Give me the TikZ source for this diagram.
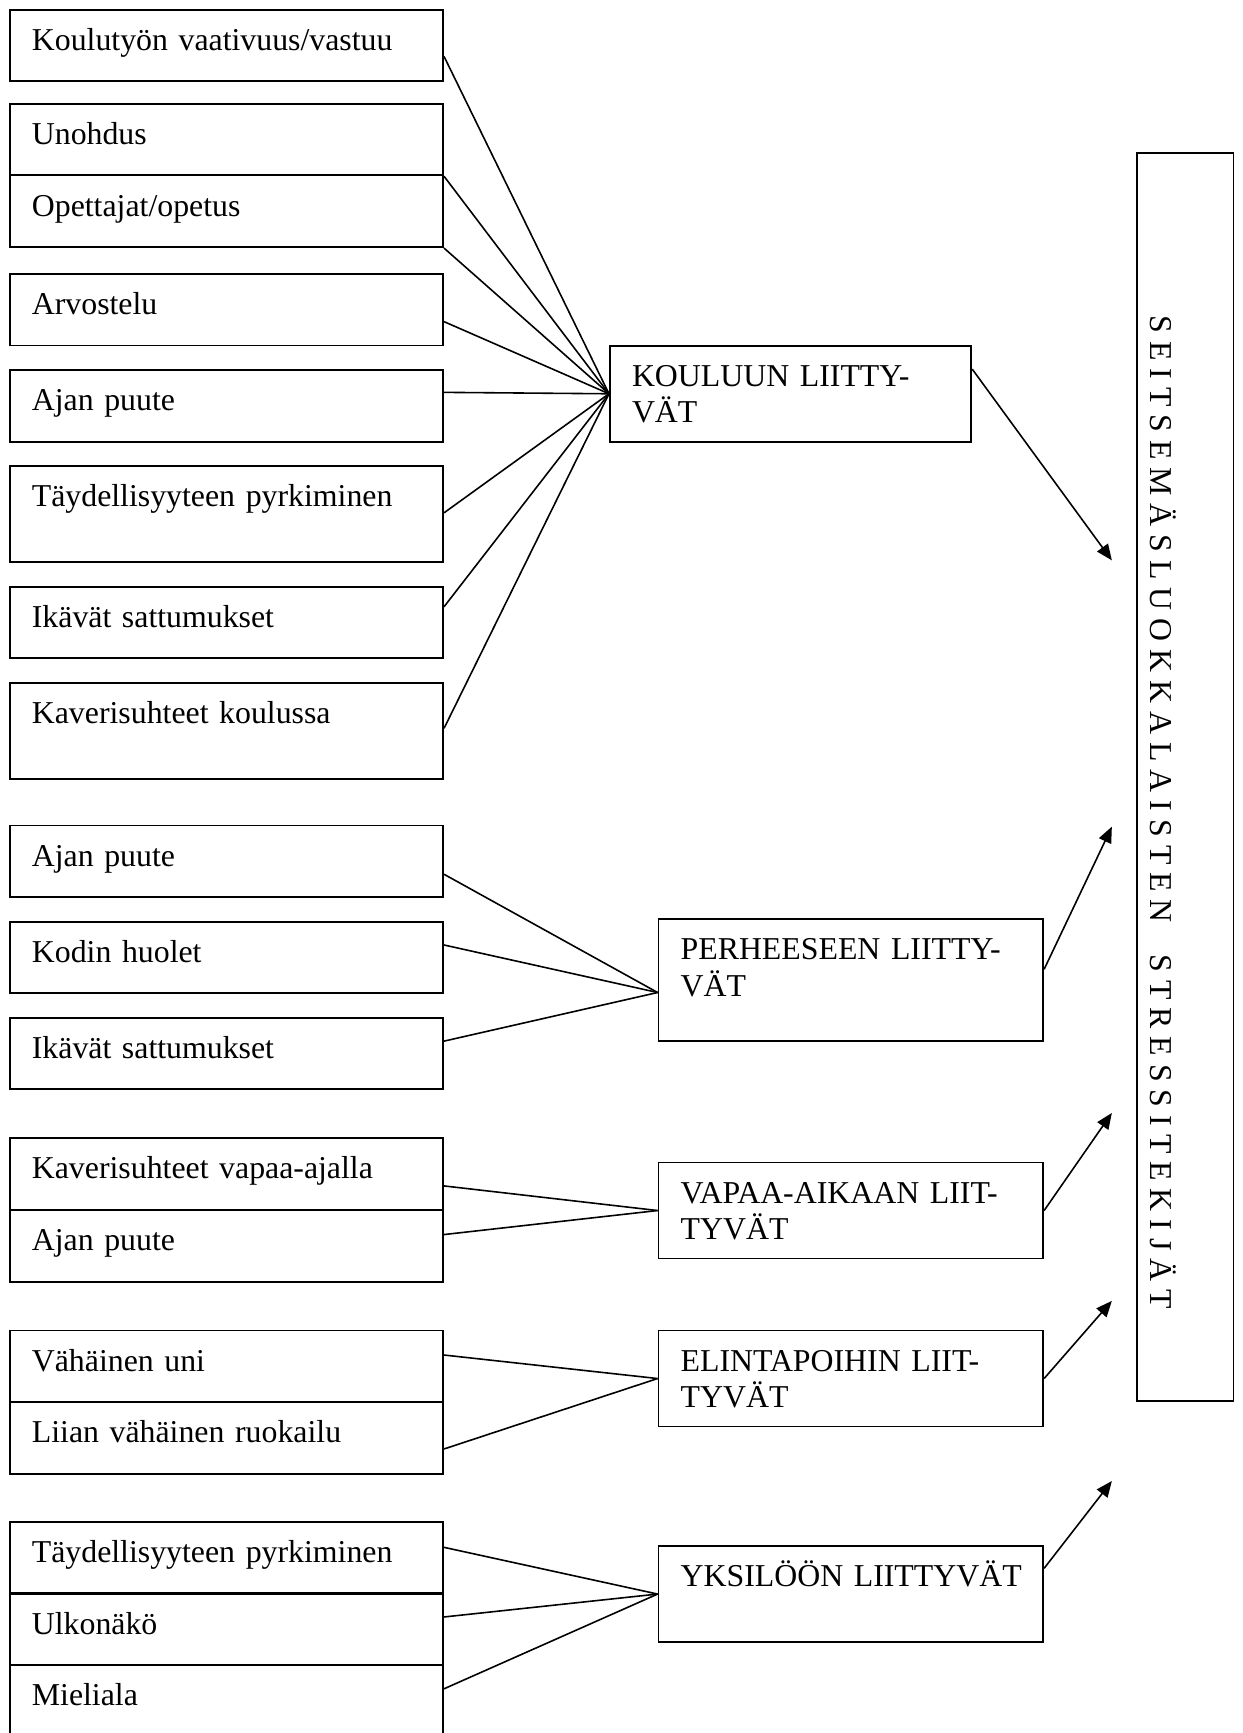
\documentclass[tikz,border=0pt]{standalone}
\usepackage{fontspec}
\setmainfont{Liberation Serif}
\usetikzlibrary{arrows.meta,calc}

\begin{document}
\begin{tikzpicture}[
    x=0.01465cm, y=-0.01465cm,
    every node/.style={font=\fontsize{12}{13.8}\selectfont},
    box/.style={draw, line width=0.7pt, anchor=north west, inner xsep=0.293cm, inner ysep=0pt, align=left, text height=15.3pt},
    cause/.style={box, text width=5.157cm, text depth=#1},
    cause/.default=11.7pt,
    topic/.style={box, text width=4.512cm, text depth=#1},
    topic/.default=20.9pt,
    link/.style={line width=0.6pt},
    arrow/.style={line width=0.6pt, -{Triangle[length=6pt,width=5pt]}}
]
\useasboundingbox (0,0) rectangle (1124,1568);

% Kouluun liittyvät
\node[cause] (k1) at (8,8) {Koulutyön vaativuus/vastuu};
\node[cause] (k2) at (8,93) {Unohdus};
\node[cause] (k3) at (8,158) {Opettajat/opetus};
\node[cause] (k4) at (8,247) {Arvostelu};
\node[cause] (k5) at (8,334) {Ajan puute};
\node[cause=20.9pt] (k6) at (8,421) {Täydellisyyteen pyrkiminen};
\node[cause] (k7) at (8,530) {Ikävät sattumukset};
\node[cause=20.9pt] (k8) at (8,617) {Kaverisuhteet koulussa};
\node[topic, text width=4.204cm] (koulu) at (551,312) {KOULUUN LIITTY-\\VÄT};

\draw[link] ($(k1.north east)+(0,43)$) -- (koulu.west);
\draw[link] (k2.south east) -- (koulu.west);
\draw[link] (k3.south east) -- (koulu.west);
\draw[link] ($(k4.north east)+(0,44)$) -- (koulu.west);
\draw[link] ($(k5.north east)+(0,21)$) -- (koulu.west);
\draw[link] ($(k6.north east)+(0,43)$) -- (koulu.west);
\draw[link] ($(k7.north east)+(0,19)$) -- (koulu.west);
\draw[link] ($(k8.north east)+(0,42)$) -- (koulu.west);

% Perheeseen liittyvät
\node[cause] (p1) at (8,746) {Ajan puute};
\node[cause] (p2) at (8,833) {Kodin huolet};
\node[cause] (p3) at (8,920) {Ikävät sattumukset};
\node[topic=30.4pt] (perhe) at (595,831) {PERHEESEEN LIITTY-\\VÄT};

\draw[link] ($(p1.north east)+(0,45)$) -- ($(perhe.north west)+(0,67)$);
\draw[link] ($(p2.north east)+(0,22)$) -- ($(perhe.north west)+(0,67)$);
\draw[link] ($(p3.north east)+(0,22)$) -- ($(perhe.north west)+(0,67)$);

% Vapaa-aikaan liittyvät
\node[cause] (v1) at (8,1029) {Kaverisuhteet vapaa-ajalla};
\node[cause] (v2) at (8,1094) {Ajan puute};
\node[topic] (vapaa) at (595,1051) {VAPAA-AIKAAN LIIT-\\TYVÄT};

\draw[link] ($(v1.north east)+(0,44)$) -- (vapaa.west);
\draw[link] ($(v2.north east)+(0,23)$) -- (vapaa.west);

% Elintapoihin liittyvät
\node[cause] (e1) at (8,1203) {Vähäinen uni};
\node[cause] (e2) at (8,1268) {Liian vähäinen ruokailu};
\node[topic] (elin) at (595,1203) {ELINTAPOIHIN LIIT-\\TYVÄT};

\draw[link] ($(e1.north east)+(0,23)$) -- (elin.west);
\draw[link] ($(e2.north east)+(0,43)$) -- (elin.west);

% Yksilöön liittyvät
\node[cause] (y1) at (8,1376) {Täydellisyyteen pyrkiminen};
\node[cause] (y2) at (8,1441) {Ulkonäkö};
\node[cause] (y3) at (8,1506) {Mieliala};
\node[topic] (yksi) at (595,1398) {\mbox{YKSILÖÖN LIITTYVÄT}};

\draw[link] ($(y1.north east)+(0,24)$) -- (yksi.west);
\draw[link] ($(y2.north east)+(0,22)$) -- (yksi.west);
\draw[link] ($(y3.north east)+(0,22)$) -- (yksi.west);

% Stressitekijät
\node[draw, line width=0.7pt, minimum width=1.275cm, minimum height=16.55cm] (stress) at (1072.5,703) {};
\node[rotate=-90, anchor=base] (stresstext) at (1041,735)
      {S E I T S E M Ä S L U O K K A L A I S T E N\hspace{12pt}S T R E S S I T E K I J Ä T};

\coordinate (t1) at (1006,507);
\coordinate (t2) at (1006,748);
\coordinate (t3) at (1006,1007);
\coordinate (t4) at (1006,1177);
\coordinate (t5) at (1006,1340);

\draw[arrow] ($(koulu.north east)+(0,22)$) -- (t1);
\draw[arrow] ($(perhe.north east)+(0,46)$) -- (t2);
\draw[arrow] (vapaa.east) -- (t3);
\draw[arrow] (elin.east) -- (t4);
\draw[arrow] ($(yksi.north east)+(0,21)$) -- (t5);

\end{tikzpicture}
\end{document}
